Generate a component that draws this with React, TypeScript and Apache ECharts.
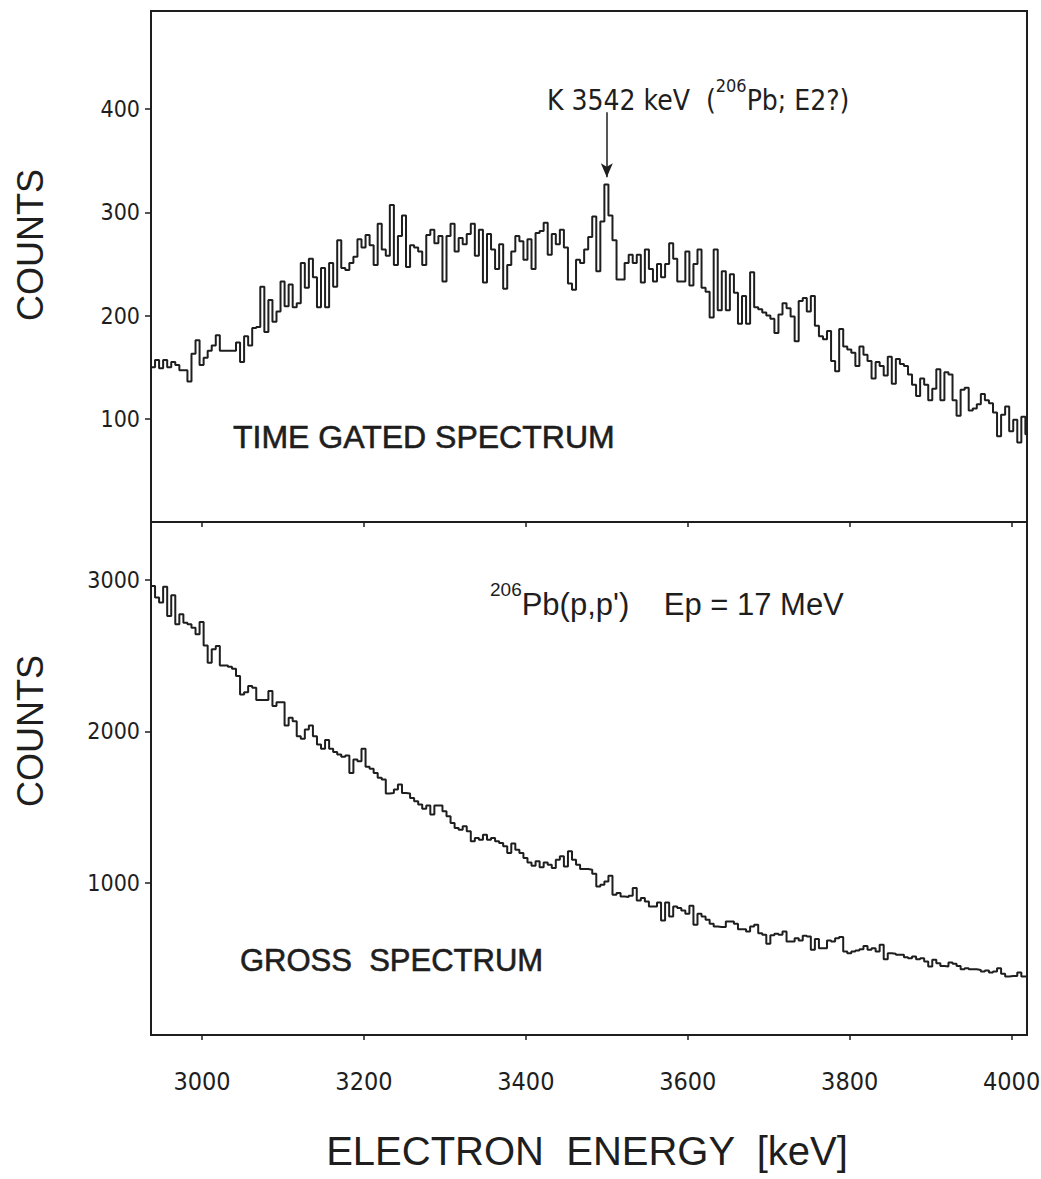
import React, { useEffect, useRef } from "react";
import * as echarts from "echarts";

// ---- data ----
const BIN_START = 2937; // keV, left edge of first channel
const BIN_WIDTH = 5; // keV per channel
const X_MIN = 2937;
const X_MAX = 4019;
const X_TICKS = [3000, 3200, 3400, 3600, 3800, 4000];
const GATED_TICKS = [100, 200, 300, 400];
const GROSS_TICKS = [1000, 2000, 3000];
const GATED_MAX = 495;
const GROSS_MAX = 3380;
const PEAK_ENERGY = 3500;
const ARROW_FROM = 397;
const ARROW_TO = 334;

const gatedCounts = [
  150, 157, 149, 157, 150, 155, 152, 147, 147, 136,
  163, 176, 152, 159, 166, 171, 181, 166, 166, 166,
  166, 174, 155, 180, 171, 188, 189, 228, 184, 215,
  194, 204, 233, 209, 230, 208, 212, 251, 227, 255,
  237, 208, 246, 208, 251, 228, 273, 246, 244, 251,
  257, 274, 266, 278, 268, 249, 289, 264, 258, 307,
  249, 277, 297, 247, 268, 266, 262, 249, 278, 283,
  270, 277, 233, 277, 289, 262, 275, 269, 279, 289,
  258, 283, 232, 279, 264, 245, 269, 226, 249, 262,
  277, 272, 254, 274, 245, 280, 282, 290, 259, 279,
  269, 283, 266, 231, 225, 254, 251, 264, 276, 296,
  243, 291, 327, 297, 273, 235, 235, 251, 259, 251,
  259, 232, 264, 245, 233, 250, 237, 250, 270, 255,
  233, 233, 262, 229, 250, 264, 227, 223, 198, 264,
  205, 243, 205, 240, 222, 192, 219, 192, 242, 208,
  206, 203, 200, 197, 183, 201, 212, 207, 199, 175,
  214, 217, 204, 219, 190, 180, 177, 185, 156, 146,
  187, 170, 167, 164, 151, 170, 162, 156, 139, 155,
  151, 142, 160, 134, 158, 153, 151, 143, 133, 122,
  139, 133, 118, 129, 148, 118, 145, 143, 118, 103,
  128, 130, 108, 110, 114, 124, 118, 115, 106, 83,
  104, 112, 88, 99, 77, 102, 85,
];

const grossCounts = [
  2959, 2882, 2849, 2954, 2761, 2897, 2706, 2772, 2717, 2706,
  2684, 2640, 2721, 2567, 2453, 2541, 2563, 2435, 2435, 2426,
  2413, 2365, 2244, 2259, 2299, 2288, 2207, 2207, 2207, 2266,
  2167, 2193, 2193, 2039, 2090, 2068, 1969, 1952, 2013, 2039,
  1969, 1914, 1886, 1943, 1886, 1864, 1848, 1833, 1842, 1727,
  1815, 1804, 1886, 1767, 1754, 1727, 1695, 1683, 1591, 1595,
  1617, 1650, 1595, 1591, 1562, 1540, 1518, 1490, 1512, 1452,
  1512, 1512, 1474, 1441, 1397, 1364, 1353, 1375, 1342, 1276,
  1298, 1287, 1320, 1287, 1298, 1276, 1265, 1243, 1199, 1261,
  1221, 1199, 1166, 1137, 1115, 1144, 1106, 1137, 1122, 1100,
  1155, 1177, 1111, 1210, 1155, 1122, 1093, 1093, 1089, 1062,
  979, 990, 1012, 1049, 924, 935, 913, 909, 917, 968,
  887, 902, 880, 847, 847, 873, 755, 873, 781, 847,
  836, 821, 799, 851, 726, 799, 781, 759, 733, 715,
  711, 711, 748, 748, 733, 697, 697, 682, 715, 726,
  671, 660, 601, 658, 667, 660, 682, 616, 616, 638,
  623, 654, 649, 561, 632, 572, 572, 623, 616, 638,
  645, 550, 539, 550, 556, 565, 587, 561, 572, 550,
  594, 499, 539, 535, 528, 528, 513, 506, 517, 499,
  506, 484, 451, 495, 473, 455, 451, 477, 469, 455,
  433, 440, 433, 433, 429, 418, 425, 411, 418, 440,
  403, 385, 389, 389, 411, 385, 385,
];

const toSteps = (counts: number[]) => {
  const pts = counts.map((c, i) => [BIN_START + i * BIN_WIDTH, c]);
  pts.push([BIN_START + counts.length * BIN_WIDTH, counts[counts.length - 1]]);
  return pts;
};

const INK = "#1e1e1e";
const NARROW = "'Liberation Sans Narrow', 'DejaVu Sans Condensed', 'Liberation Sans', sans-serif";
const SANS = "'Liberation Sans', Arial, sans-serif";
const plain = (v: number) => String(v);

export default function App() {
  const ref = useRef<HTMLDivElement>(null);
  useEffect(() => {
    if (!ref.current) return;
    const chart = echarts.init(ref.current, undefined, { renderer: "svg" });
    const xAxisBase = {
      type: "value",
      min: X_MIN,
      max: X_MAX,
      axisLine: { show: false },
      splitLine: { show: false },
      axisTick: { show: true, customValues: X_TICKS, length: 5, lineStyle: { color: INK, width: 1.5 } },
    };
    const yAxisBase = {
      type: "value",
      min: 0,
      axisLine: { show: false },
      splitLine: { show: false },
    };
    const gridBase = {
      left: 151,
      width: 876,
      show: true,
      borderColor: INK,
      borderWidth: 2,
      backgroundColor: "transparent",
      containLabel: false,
      outerBoundsMode: "none",
    };
    chart.setOption({
      animation: false,
      backgroundColor: "#ffffff",
      grid: [
        { ...gridBase, top: 11, height: 511 },
        { ...gridBase, top: 522, height: 513 },
      ],
      xAxis: [
        { ...xAxisBase, gridIndex: 0, axisLabel: { show: false } },
        {
          ...xAxisBase,
          gridIndex: 1,
          axisLabel: {
            show: true, customValues: X_TICKS, margin: 34, fontSize: 25,
            fontFamily: NARROW, color: INK, formatter: plain,
          },
        },
      ],
      yAxis: [
        {
          ...yAxisBase,
          gridIndex: 0,
          max: GATED_MAX,
          axisTick: { show: true, customValues: GATED_TICKS, length: 6, lineStyle: { color: INK, width: 1.5 } },
          axisLabel: { show: true, customValues: GATED_TICKS, margin: 11, fontSize: 23, fontFamily: NARROW, color: INK, formatter: plain },
        },
        {
          ...yAxisBase,
          gridIndex: 1,
          max: GROSS_MAX,
          axisTick: { show: true, customValues: GROSS_TICKS, length: 6, lineStyle: { color: INK, width: 1.5 } },
          axisLabel: { show: true, customValues: GROSS_TICKS, margin: 11, fontSize: 23, fontFamily: NARROW, color: INK, formatter: plain },
        },
      ],
      series: [
        {
          type: "line",
          xAxisIndex: 0,
          yAxisIndex: 0,
          step: "end",
          showSymbol: false,
          data: toSteps(gatedCounts),
          lineStyle: { color: INK, width: 2 },
          markLine: {
            silent: true,
            symbol: ["none", "arrow"],
            symbolSize: [9, 14],
            label: { show: false },
            lineStyle: { color: INK, width: 1.5, type: "solid" },
            data: [[{ coord: [PEAK_ENERGY, ARROW_FROM] }, { coord: [PEAK_ENERGY, ARROW_TO] }]],
          },
        },
        {
          type: "line",
          xAxisIndex: 1,
          yAxisIndex: 1,
          step: "end",
          showSymbol: false,
          data: toSteps(grossCounts),
          lineStyle: { color: INK, width: 2 },
        },
      ],
      graphic: [
        {
          type: "text", x: 30, y: 245, rotation: Math.PI / 2,
          style: { text: "COUNTS", fontSize: 36, fontFamily: SANS, fill: INK, align: "center", verticalAlign: "middle" },
        },
        {
          type: "text", x: 30, y: 731, rotation: Math.PI / 2,
          style: { text: "COUNTS", fontSize: 36, fontFamily: SANS, fill: INK, align: "center", verticalAlign: "middle" },
        },
        {
          type: "text", x: 587, y: 1151,
          style: { text: "ELECTRON  ENERGY  [keV]", fontSize: 40, fontFamily: SANS, fill: INK, align: "center", verticalAlign: "middle" },
        },
        {
          type: "text", x: 233, y: 437,
          style: { text: "TIME GATED SPECTRUM", fontSize: 32, fontFamily: SANS, fill: INK, align: "left", verticalAlign: "middle", stroke: INK, lineWidth: 0.6 },
        },
        {
          type: "text", x: 240, y: 960,
          style: { text: "GROSS  SPECTRUM", fontSize: 31, fontFamily: SANS, fill: INK, align: "left", verticalAlign: "middle", stroke: INK, lineWidth: 0.6 },
        },
        {
          type: "text", x: 490, y: 600,
          style: {
            text: "{s|206}{n|Pb(p,p')    Ep = 17 MeV}",
            align: "left", verticalAlign: "middle",
            rich: {
              s: { fontSize: 19, fontFamily: SANS, fill: INK, verticalAlign: "top", lineHeight: 16 },
              n: { fontSize: 31, fontFamily: SANS, fill: INK, verticalAlign: "bottom", lineHeight: 40 },
            },
          },
        },
        {
          type: "text", x: 547, y: 95,
          style: {
            text: "{n|K 3542 keV  (}{s|206}{n|Pb; E2?)}",
            align: "left", verticalAlign: "middle",
            rich: {
              s: { fontSize: 18, fontFamily: NARROW, fill: INK, verticalAlign: "top", lineHeight: 14 },
              n: { fontSize: 28, fontFamily: NARROW, fill: INK, verticalAlign: "bottom", lineHeight: 38 },
            },
          },
        },
      ],
    });
    return () => chart.dispose();
  }, []);
  return (
    <div
      ref={ref}
      style={{ position: "absolute", left: 0, top: 0, width: 1041, height: 1179, background: "#fff" }}
    />
  );
}
